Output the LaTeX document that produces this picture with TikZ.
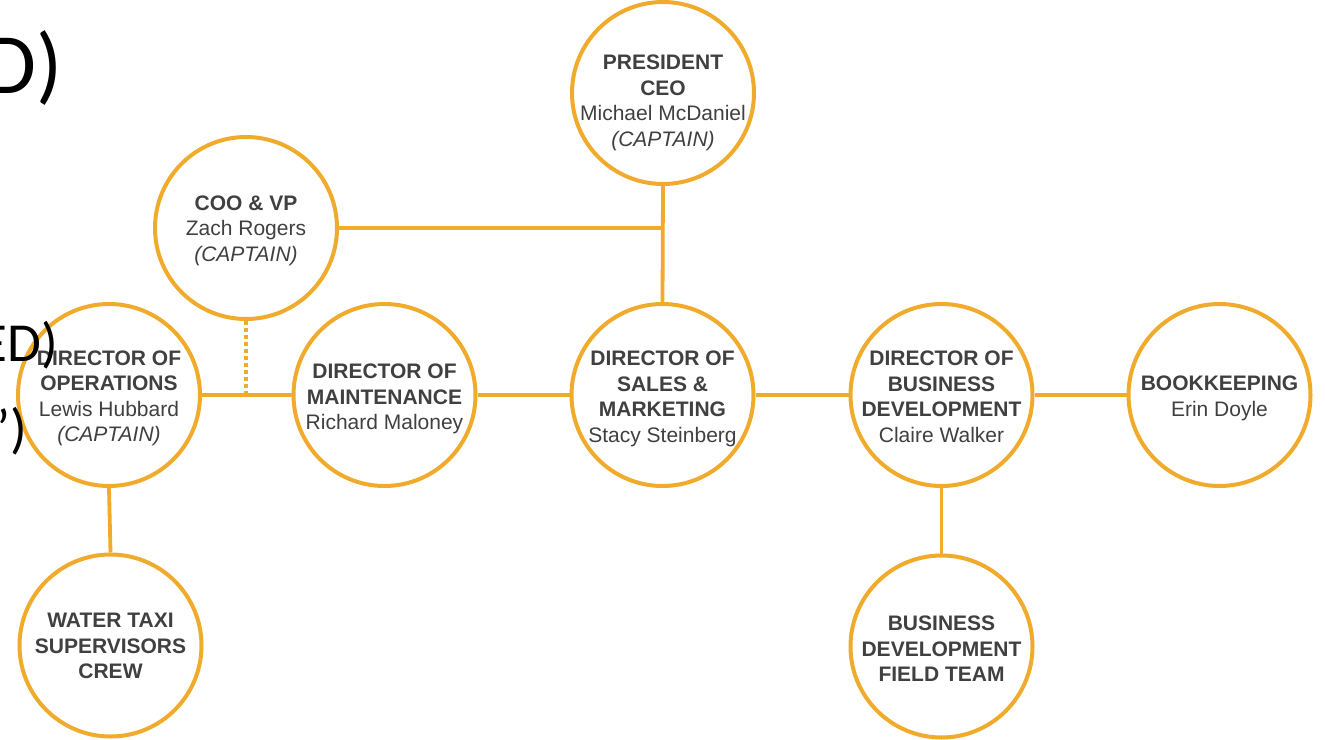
\documentclass[tikz,border=0pt]{standalone}
\usepackage{fontspec}
\setmainfont{Liberation Sans}
\newfontfamily\bgfont{Carlito}
\definecolor{orgline}{RGB}{240,171,45}
\definecolor{txtgray}{RGB}{64,64,64}
\begin{document}
\begin{tikzpicture}[x=1pt,y=-1pt,
  circ/.style={circle,draw=orgline,line width=4pt,fill=white,minimum size=182pt,inner sep=0pt},
  lbl/.style={align=center,text=txtgray,inner sep=0pt,font=\fontsize{21}{25.5}\selectfont},
  conn/.style={draw=orgline,line width=3.8pt},
  dotconn/.style={draw=orgline,line width=3.8pt,dash pattern=on 4pt off 3pt},
  bgtxt/.style={anchor=base east,inner sep=0pt,text=black}]
\useasboundingbox (0,0) rectangle (1325,739);
\clip (0,0) rectangle (1325,739);
% circles
\node[circ] (pres)  at (663,93) {};
\node[circ] (coo)   at (246,228) {};
\node[circ] (ops)   at (109,395) {};
\node[circ] (water) at (110.5,645.5) {};
\node[circ] (maint) at (384.5,395) {};
\node[circ] (sales) at (662.5,395) {};
\node[circ] (bd)    at (941.5,395) {};
\node[circ] (book)  at (1219.5,395) {};
\node[circ] (field) at (941.5,646.5) {};
% connectors
\coordinate (cooj) at (coo.east -| pres.south);
\coordinate (dotj) at (coo.south |- ops.east);
\path[conn] (coo.east) -- (cooj);
\path[conn] (pres.south) -- (sales.north);
\path[dotconn] (coo.south) -- (dotj);
\path[conn] (ops.east) -- (maint.west);
\path[conn] (maint.east) -- (sales.west);
\path[conn] (sales.east) -- (bd.west);
\path[conn] (bd.east) -- (book.west);
\path[conn] (ops.south) -- (water.north);
\path[conn] (bd.south) -- (field.north);
% labels
\node[lbl] (presT)  at ([yshift=-10pt]pres.center) {\bfseries PRESIDENT\\\bfseries CEO\\Michael McDaniel\\\itshape (CAPTAIN)};
\node[lbl] (cooT)   at ([yshift=-2.5pt]coo.center) {\bfseries COO \& VP\\Zach Rogers\\\itshape (CAPTAIN)};
\node[lbl] (opsT)   at ([yshift=-3.5pt]ops.center) {\bfseries DIRECTOR OF\\\bfseries OPERATIONS\\Lewis Hubbard\\\itshape (CAPTAIN)};
\node[lbl] (waterT) at ([yshift=-0.5pt]water.center) {\bfseries WATER TAXI\\\bfseries SUPERVISORS\\\bfseries CREW};
\node[lbl] (maintT) at ([yshift=-4pt]maint.center) {\bfseries DIRECTOR OF\\\bfseries MAINTENANCE\\Richard Maloney};
\node[lbl] (salesT) at ([yshift=-4pt]sales.center) {\bfseries DIRECTOR OF\\\bfseries SALES \&\\\bfseries MARKETING\\Stacy Steinberg};
\node[lbl] (bdT)    at ([yshift=-2pt]bd.center) {\bfseries DIRECTOR OF\\\bfseries BUSINESS\\\bfseries DEVELOPMENT\\Claire Walker};
\node[lbl] (bookT)  at ([yshift=-3.5pt]book.center) {\bfseries BOOKKEEPING\\Erin Doyle};
\node[lbl] (fieldT) at ([yshift=-2.5pt]field.center) {\bfseries BUSINESS\\\bfseries DEVELOPMENT\\\bfseries FIELD TEAM};
% background slide text fragments
\node[bgtxt,font=\bgfont\fontsize{86}{86}\selectfont] (bgA) at (63,93) {D)};
\node[bgtxt,font=\bgfont\fontsize{55}{55}\selectfont] (bgB) at (58,361) {ED)};
\node[bgtxt,font=\bgfont\fontsize{55}{55}\selectfont] (bgC) at (27,447) {”)};
\end{tikzpicture}
\end{document}
